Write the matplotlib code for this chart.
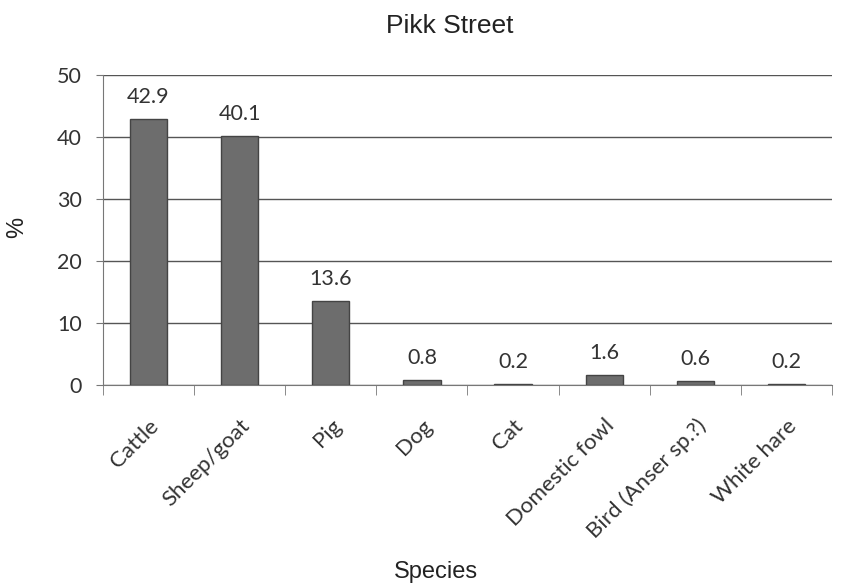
import matplotlib
matplotlib.use("Agg")
import matplotlib.pyplot as plt
import numpy as np

species = ["Cattle", "Sheep/goat", "Pig", "Dog", "Cat", "Domestic fowl",
           "Bird (Anser sp.?)", "White hare"]
percent = [42.9, 40.1, 13.6, 0.8, 0.2, 1.6, 0.6, 0.2]
labels = ["42.9", "40.1", "13.6", "0.8", "0.2", "1.6", "0.6", "0.2"]

fig = plt.figure(figsize=(8.57, 5.85), dpi=100)
ax = fig.add_axes([0.120, 0.342, 0.851, 0.530])

x = np.arange(len(species))
ax.bar(x, percent, width=0.41, color="#6d6d6d", edgecolor="#444444",
       linewidth=1.0, zorder=3)

# value labels above the bars
for xi, v, t in zip(x, percent, labels):
    ax.annotate(t, (xi, v), xytext=(0, 8.5), textcoords="offset points",
                ha="center", va="bottom", fontsize=15.5, family="Lato",
                color="#333333")

ax.set_xlim(-0.5, len(species) - 0.5)
ax.set_ylim(0, 50)
ax.set_yticks([0, 10, 20, 30, 40, 50])
ax.yaxis.grid(True, color="#555555", linewidth=1.0, zorder=0)
ax.set_axisbelow(True)

ax.set_xticks(x)
ax.set_xticklabels(species, rotation=45, ha="right", rotation_mode="anchor",
                   fontsize=16, family="Lato", color="#333333")
ax.tick_params(axis="x", length=0, pad=22)
ax.set_xticks(np.arange(len(species) + 1) - 0.5, minor=True)
ax.tick_params(axis="x", which="minor", length=7, color="#777777", direction="out")
for lab in ax.get_yticklabels():
    lab.set_family("Lato")
ax.tick_params(axis="y", length=5, color="#777777", labelsize=15.5,
               labelcolor="#333333", pad=10)

for s in ["top", "right"]:
    ax.spines[s].set_visible(False)
ax.spines["left"].set_color("#777777")
ax.spines["bottom"].set_color("#777777")

fig.text(0.525, 0.944, "Pikk Street", ha="center", va="baseline",
         fontsize=19, family="Liberation Sans", color="#222222")
fig.text(0.020, 0.612, "%", rotation=90, ha="center", va="center",
         fontsize=17, family="Liberation Sans", color="#222222")
fig.text(0.509, 0.012, "Species", ha="center", va="baseline",
         fontsize=17, family="Liberation Sans", color="#222222")

fig.savefig("out.png", dpi=100)
